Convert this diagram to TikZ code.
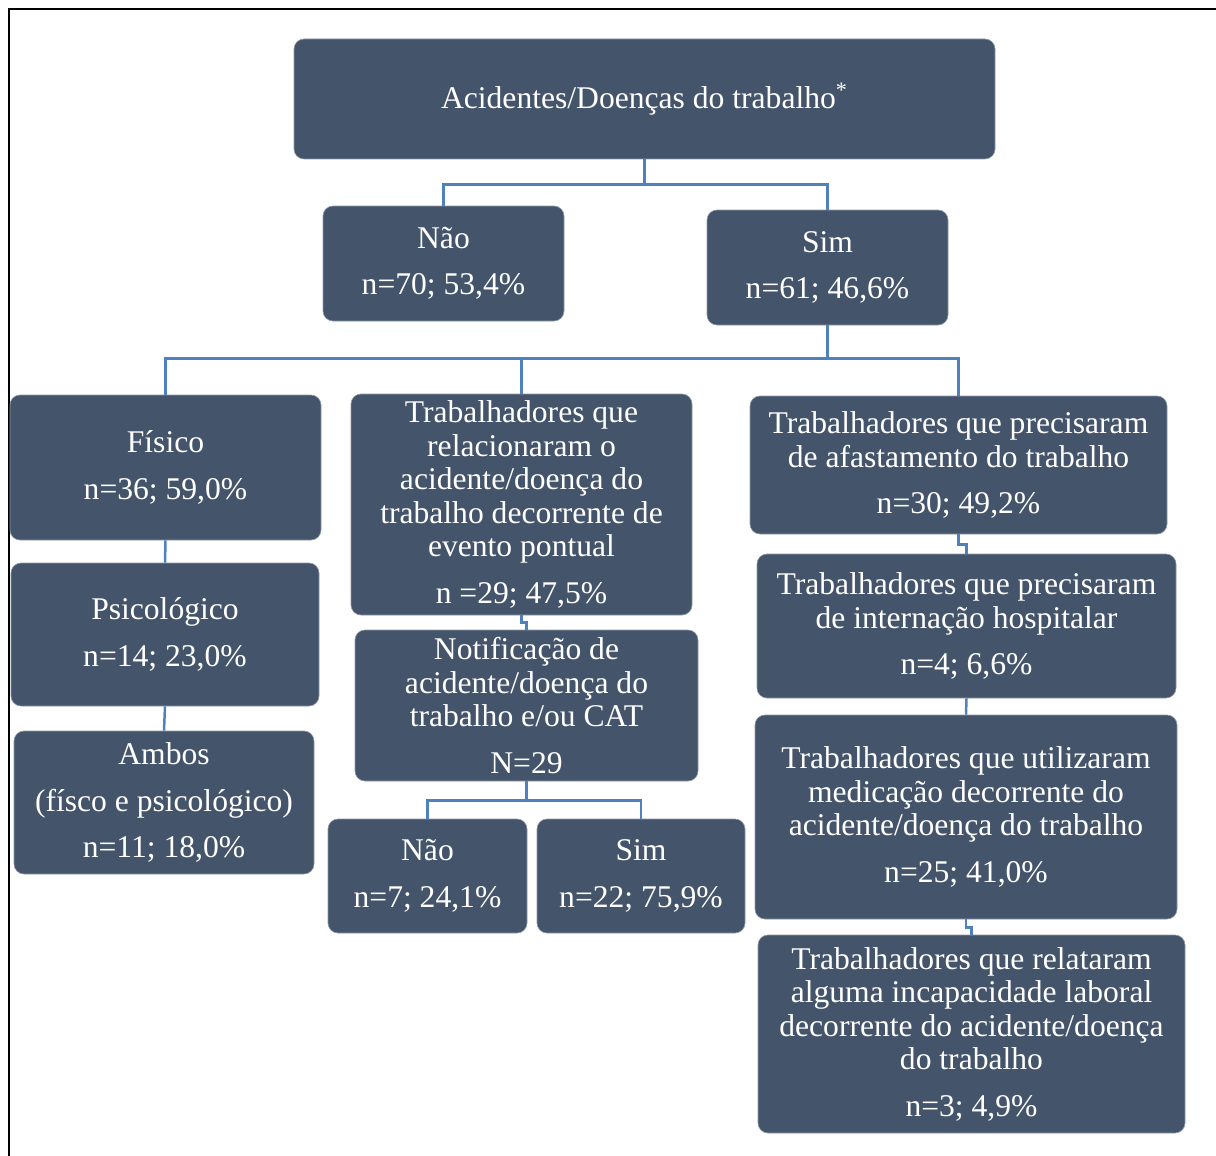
\documentclass[tikz,border=0pt]{standalone}
\usepackage{fontspec}
\setmainfont{Liberation Serif}
\definecolor{boxfill}{HTML}{44546A}
\definecolor{linkblue}{HTML}{4F81BD}

\begin{document}
\begin{tikzpicture}[
  x=0.5pt, y=-0.5pt,
  font=\fontsize{15.8}{16.75}\selectfont,
  box/.style={fill=boxfill, draw=boxfill!60!white, line width=.3pt, rounded corners=5pt, text=white, align=center, inner sep=0pt},
  link/.style={draw=linkblue, line width=1.25pt},
  frame/.style={line width=1pt}
]
\useasboundingbox (0,0) rectangle (1216,1156);
\draw[frame] (1216,9) -- (9,9) -- (9,1156);

% top level
\node[box, minimum width=350.5pt, minimum height=60pt] (acid) at (644.5,99) {Acidentes/Doenças do trabalho\textsuperscript{*}};
\node[box, minimum width=120.5pt, minimum height=57.5pt] (nao) at (443.5,263.5) {Não\\[6.5pt]n=70; 53,4\%};
\node[box, minimum width=120.5pt, minimum height=57.5pt] (sim) at (827.5,267.5) {Sim\\[6.5pt]n=61; 46,6\%};

% left column
\node[box, minimum width=155.5pt, minimum height=72.5pt] (fis) at (165.5,467.5) {Físico\\[6.5pt]n=36; 59,0\%};
\node[box, minimum width=154pt, minimum height=71.5pt] (psi) at (165,634.5) {Psicológico\\[6.5pt]n=14; 23,0\%};
\node[box, minimum width=150pt, minimum height=71.5pt] (amb) at (164,802.5) {Ambos\\[6.5pt](físco e psicológico)\\[6.5pt]n=11; 18,0\%};

% middle column
\node[box, minimum width=170.5pt, minimum height=110.5pt] (rel) at (521.5,504.5) {Trabalhadores que\\relacionaram o\\acidente/doença do\\trabalho decorrente de\\evento pontual\\[6.5pt]n =29; 47,5\%};
\node[box, minimum width=171.5pt, minimum height=75.5pt] (notif) at (526.5,705.5) {Notificação de\\acidente/doença do\\trabalho e/ou CAT\\[6.5pt]N=29};
\node[box, minimum width=99.5pt, minimum height=57pt] (nnao) at (427.5,876) {Não\\[6.5pt]n=7; 24,1\%};
\node[box, minimum width=104pt, minimum height=57pt] (nsim) at (641,876) {Sim\\[6.5pt]n=22; 75,9\%};

% right column
\node[box, minimum width=208.5pt, minimum height=69pt] (afa) at (958.5,465) {Trabalhadores que precisaram\\de afastamento do trabalho\\[6.5pt]n=30; 49,2\%};
\node[box, minimum width=209.5pt, minimum height=72pt] (int) at (966.5,626) {Trabalhadores que precisaram\\de internação hospitalar\\[6.5pt]n=4; 6,6\%};
\node[box, minimum width=211pt, minimum height=102pt] (med) at (966,817) {Trabalhadores que utilizaram\\medicação decorrente do\\acidente/doença do trabalho\\[6.5pt]n=25; 41,0\%};
\node[box, minimum width=213.5pt, minimum height=99pt] (inc) at (971.5,1034) {Trabalhadores que relataram\\alguma incapacidade laboral\\decorrente do acidente/doença\\do trabalho\\[6.5pt]n=3; 4,9\%};

% connectors
\draw[link] (acid.south) -- ++(0,25) -| (nao.north);
\draw[link] (acid.south) -- ++(0,25) -| (sim.north);
\draw[link] (sim.south) -- ++(0,33) -| (fis.north);
\draw[link] (sim.south) -- ++(0,33) -| (rel.north);
\draw[link] (sim.south) -- ++(0,33) -| (afa.north);
\draw[link] (fis.south) -- (psi.north);
\draw[link] (psi.south) -- (amb.north);
\draw[link] (rel.south) -- ++(0,7) -| (notif.north);
\draw[link] (notif.south) -- ++(0,19) -| (nnao.north);
\draw[link] (notif.south) -- ++(0,19) -| (nsim.north);
\draw[link] (afa.south) -- ++(0,10) -| (int.north);
\draw[link] (int.south) -- (med.north);
\draw[link] (med.south) -- ++(0,8) -| (inc.north);
\end{tikzpicture}
\end{document}
